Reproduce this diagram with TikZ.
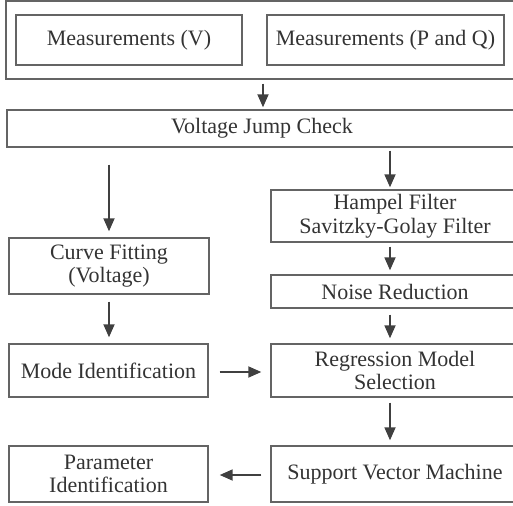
\documentclass[tikz,border=0pt]{standalone}
\usepackage{fontspec}
\setmainfont{Liberation Serif}
\usetikzlibrary{arrows.meta, positioning, calc, backgrounds}
\definecolor{cLine}{RGB}{100,100,100}
\definecolor{cArr}{RGB}{64,64,64}
\definecolor{cText}{RGB}{51,51,51}

\begin{document}
\begin{tikzpicture}[x=1pt, y=-1pt,
            box/.style={draw=cLine, line width=1.4pt, rectangle, inner sep=2pt, align=center,
                        text=cText, font=\fontsize{22}{23.5}\selectfont},
            arr/.style={draw=cArr, line width=1.8pt, -{Triangle[length=13pt, width=11pt]}}]
            \useasboundingbox (0,0) rectangle (513,505);
            \clip (0,0) rectangle (513,505);
            % inputs
            \node[box, minimum width=514pt, minimum height=78pt] (inputs) at (263,40) {};
            \node[box, minimum width=226pt, minimum height=50pt] (mv) at (129,40) {Measurements (V)};
            \node[box, minimum width=237pt, minimum height=50pt] (mpq) at (385.5,40) {Measurements (P and Q)};
            \node[box, minimum width=510pt, minimum height=37pt] (vjc) at (262,128.5) {Voltage Jump Check};
            % left column
            \node[box, minimum width=200pt, minimum height=56pt] (curve) at (109,266) {Curve Fitting\\(Voltage)};
            \node[box, minimum width=199pt, minimum height=53pt] (mode) at (108.5,370.5) {Mode Identification};
            \node[box, minimum width=199pt, minimum height=56pt] (param) at (108.5,474) {Parameter\\Identification};
            % right column
            \node[box, minimum width=248pt, minimum height=52pt] (hampel) at (395,216) {Hampel Filter\\Savitzky-Golay Filter};
            \node[box, minimum width=248pt, minimum height=33pt] (noise) at (395,291.5) {Noise Reduction};
            \node[box, minimum width=248pt, minimum height=53pt] (regr) at (395,370.5) {Regression Model\\Selection};
            \node[box, minimum width=248pt, minimum height=56pt] (svm) at (395,474) {Support Vector Machine};
            % arrows
            \draw[arr, shorten <=4pt, shorten >=2pt] (inputs.south) -- (vjc.north -| inputs.south);
            \draw[arr, shorten <=17pt, shorten >=6pt] (vjc.south -| curve.north) -- (curve.north);
            \draw[arr, shorten <=3pt, shorten >=2pt] ([xshift=-5pt]vjc.south -| hampel.north) -- ([xshift=-5pt]hampel.north);
            \draw[arr, shorten <=4pt, shorten >=4pt] ([xshift=-5pt]hampel.south) -- ([xshift=-5pt]noise.north);
            \draw[arr, shorten <=7pt, shorten >=6pt] (curve.south) -- (mode.north -| curve.south);
            \draw[arr, shorten <=6pt, shorten >=5pt] ([xshift=-5pt]noise.south) -- ([xshift=-5pt]regr.north);
            \draw[arr, shorten <=5pt, shorten >=5pt] ([xshift=-5pt]regr.south) -- ([xshift=-5pt]svm.north);
            \draw[arr, shorten <=11pt, shorten >=9pt] ([yshift=-1.5pt]mode.east) -- ([yshift=-1.5pt]mode.east -| regr.west);
            \draw[arr, shorten <=9pt, shorten >=11pt] ([yshift=-1pt]svm.west) -- ([yshift=-1pt]svm.west -| param.east);
\end{tikzpicture}
\end{document}
